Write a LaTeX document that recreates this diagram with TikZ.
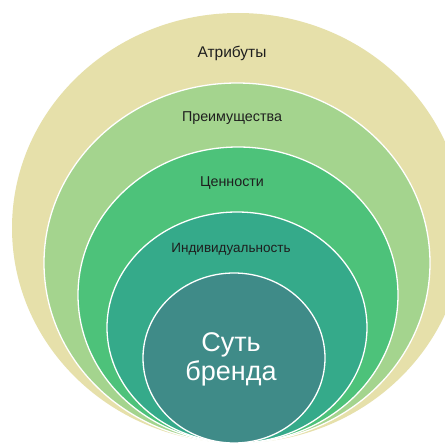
\documentclass[tikz,border=0pt]{standalone}
\usepackage{fontspec}
\setmainfont{Liberation Sans}
\usepackage{tikz}
\definecolor{attrcol}{HTML}{E6E0AA}
\definecolor{benefcol}{HTML}{A4D48E}
\definecolor{valuecol}{HTML}{4DC27A}
\definecolor{indivcol}{HTML}{35AA8A}
\definecolor{corecol}{HTML}{3F8B88}
\definecolor{labelcol}{HTML}{1E1E1E}

\begin{document}
\begin{tikzpicture}[x=1pt,y=-1pt]
			\tikzstyle{every node}+=[inner sep=0pt]
			\tikzstyle{ring}=[draw=white, line width=1.3pt]
			\tikzstyle{label}=[text=labelcol, font=\fontsize{14.3}{16}\selectfont]
			\fill [white] (0,0) rectangle (445,444);
			\useasboundingbox (0,0) rectangle (445,444);
			\begin{scope}
			\clip (0,0) rectangle (445,444);
			\fill [attrcol] (238,228) ellipse [x radius=226pt, y radius=215pt];
			\filldraw [ring, fill=benefcol] (237,263) ellipse [x radius=193pt, y radius=180pt];
			\filldraw [ring, fill=valuecol] (238,295) ellipse [x radius=160pt, y radius=148pt];
			\filldraw [ring, fill=indivcol] (237,327.5) ellipse [x radius=130pt, y radius=115.5pt];
			\filldraw [ring, fill=corecol] (234,358) ellipse [x radius=91pt, y radius=85pt];
			\end{scope}
			\node [label, font=\fontsize{15.5}{17}\selectfont] (attr) at (232,53) {Атрибуты};
			\node [label] (benef) at (232,118) {Преимущества};
			\node [label] (value) at (232,183) {Ценности};
			\node [label, font=\fontsize{13.5}{16}\selectfont] (indiv) at (231,249) {Индивидуальность};
			\node [text=white, align=center, font=\fontsize{27}{29}\selectfont] (core) at (231,359) {Суть\\бренда};
		\end{tikzpicture}
\end{document}
